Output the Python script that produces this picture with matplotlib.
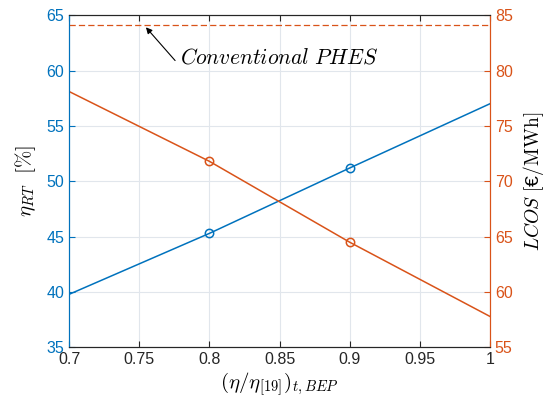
import matplotlib.pyplot as plt

plt.rcParams['font.family'] = ['Liberation Sans', 'DejaVu Sans']
plt.rcParams['mathtext.fontset'] = 'cm'

# data
eta_ratio = [0.7, 0.8, 0.9, 1.0]
eta_rt = [39.8, 45.3, 51.2, 57.0]      # [%]
lcos = [78.1, 71.8, 64.5, 57.8]        # [EUR/MWh]
marker_x = [0.8, 0.9]
marker_rt = [45.3, 51.2]
marker_lcos = [71.8, 64.5]
lcos_phes = 84.1

xticks = [0.7, 0.75, 0.8, 0.85, 0.9, 0.95, 1.0]
xticklabels = ['0.7', '0.75', '0.8', '0.85', '0.9', '0.95', '1']

blue = '#0072BD'
orange = '#D95319'

fig = plt.figure(figsize=(5.45, 3.98), dpi=100)
ax1 = fig.add_axes([0.127, 0.127, 0.772, 0.835])
ax2 = ax1.twinx()

ax1.plot(eta_ratio, eta_rt, color=blue, linewidth=1.1)
ax1.plot(marker_x, marker_rt, 'o', mfc='none', mec=blue, ms=6, mew=1.1)
ax2.plot(eta_ratio, lcos, color=orange, linewidth=1.1)
ax2.plot(marker_x, marker_lcos, 'o', mfc='none', mec=orange, ms=6, mew=1.1)
ax2.axhline(lcos_phes, color=orange, linestyle=(0, (5, 2.5)), linewidth=0.9)

ax1.set_xlim(0.7, 1.0)
ax1.set_ylim(35, 65)
ax2.set_ylim(55, 85)
ax1.set_xticks(xticks)
ax1.set_xticklabels(xticklabels)
ax1.set_yticks(range(35, 66, 5))
ax2.set_yticks(range(55, 86, 5))

ax1.grid(True, color='#e1e6ec', linewidth=0.8)
ax1.set_axisbelow(True)

for ax in (ax1, ax2):
    ax.tick_params(direction='in', labelsize=11.5, length=4, width=0.8)
    for s in ax.spines.values():
        s.set_linewidth(0.8)
    ax.spines['top'].set_color('#262626')
    ax.spines['bottom'].set_color('#262626')
    ax.spines['left'].set_color(blue)
    ax.spines['right'].set_color(orange)
ax1.tick_params(axis='y', colors=blue)
ax2.tick_params(axis='y', colors=orange)
ax1.tick_params(axis='x', colors='#262626', top=True)

ax1.set_xlabel(r'$(\eta/\eta_{[19]})_{t,BEP}$', fontsize=15, labelpad=2)
ax1.set_ylabel(r'$\eta_{RT}\ \ [\%]$', fontsize=15, labelpad=6)
ax2.set_ylabel(r'$LCOS\ [$€$/\mathrm{MWh}]$', fontsize=14, labelpad=6)

# annotation
ax1.annotate('', xy=(0.7547, 63.9), xytext=(0.7755, 60.9),
             arrowprops=dict(arrowstyle='-|>', color='black', lw=0.8,
                             shrinkA=0, shrinkB=0, mutation_scale=9))
ax1.text(0.779, 61.1, r'$Conventional\ PHES$', fontsize=15.5,
         va='center', ha='left')

plt.savefig('out.png')
